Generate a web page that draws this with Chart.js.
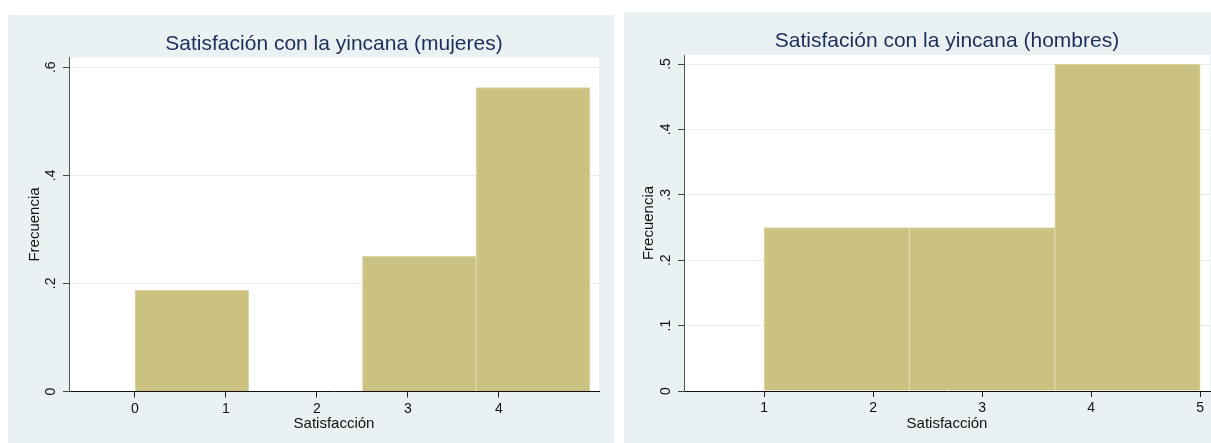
<!DOCTYPE html>
<html lang="es">
<head>
<meta charset="utf-8">
<title>Satisfación con la yincana</title>
<script src="https://cdn.jsdelivr.net/npm/chart.js@4/dist/chart.umd.min.js"></script>
<style>
  html, body { margin: 0; padding: 0; background: #ffffff; }
  body { width: 1211px; height: 443px; position: relative; overflow: hidden; }
  .panel { position: absolute; background: #e9f1f3; }
  #panelMujeres { left: 8px; top: 15px; width: 606px; height: 428px; }
  #panelHombres { left: 624px; top: 12px; width: 587px; height: 431px; }
  canvas { display: block; }
</style>
</head>
<body>
<div class="panel" id="panelMujeres"><canvas id="chartMujeres" width="606" height="428"></canvas></div>
<div class="panel" id="panelHombres"><canvas id="chartHombres" width="587" height="431"></canvas></div>
<script>
// Histogram bins (edges) and relative frequencies per bin
const binEdgesMujeres = [0, 1.25, 2.5, 3.75, 5];
const freqMujeres = [0.1875, 0, 0.25, 0.5625];

const binEdgesHombres = [1, 7 / 3, 11 / 3, 5];
const freqHombres = [0.25, 0.25, 0.5];

// Axis ticks and their labels
const xTicksMujeres = [0, 1, 2, 3, 4];
const xTickLabelsMujeres = ['0', '1', '2', '3', '4'];
const yTicksMujeres = [0, 0.2, 0.4, 0.6];
const yTickLabelsMujeres = ['0', '.2', '.4', '.6'];

const xTicksHombres = [1, 2, 3, 4, 5];
const xTickLabelsHombres = ['1', '2', '3', '4', '5'];
const yTicksHombres = [0, 0.1, 0.2, 0.3, 0.4, 0.5];
const yTickLabelsHombres = ['0', '.1', '.2', '.3', '.4', '.5'];

const titleMujeres = 'Satisfación con la yincana (mujeres)';
const titleHombres = 'Satisfación con la yincana (hombres)';
const xAxisTitle = 'Satisfacción';
const yAxisTitle = 'Frecuencia';

const FONT = 'Liberation Sans, Arial, Helvetica, sans-serif';
const BAR_FILL = '#cbc282';
const BAR_EDGE = '#dcd7a6';
const GRID = '#e4ecef';

// White plot region behind the bars
const plotBackground = {
  id: 'plotBackground',
  beforeDraw(chart) {
    const { ctx, chartArea: a } = chart;
    ctx.save();
    ctx.fillStyle = '#ffffff';
    ctx.fillRect(a.left, a.top, a.right - a.left, a.bottom - a.top);
    ctx.restore();
  }
};

function binPoints(edges, freqs) {
  return freqs.map((f, i) => ({ x: (edges[i] + edges[i + 1]) / 2, y: f }));
}

function makeHistogram(canvasId, cfg) {
  const ctx = document.getElementById(canvasId);
  return new Chart(ctx, {
    type: 'bar',
    data: {
      datasets: [{
        data: binPoints(cfg.edges, cfg.freqs),
        backgroundColor: BAR_FILL,
        borderColor: BAR_EDGE,
        borderWidth: 1,
        borderSkipped: 'start',
        barThickness: 'flex',
        barPercentage: 1,
        categoryPercentage: 1
      }]
    },
    options: {
      responsive: false,
      animation: false,
      devicePixelRatio: 1,
      events: [],
      layout: { padding: { left: 0, right: cfg.padRight, top: 0, bottom: 0 } },
      plugins: {
        legend: { display: false },
        tooltip: { enabled: false },
        title: {
          display: true,
          text: cfg.title,
          fullSize: false,
          color: '#1f2d5a',
          font: { family: FONT, size: 21, weight: 'normal', lineHeight: 1.2 },
          padding: { top: 16.4, bottom: cfg.titleGap }
        }
      },
      scales: {
        x: {
          type: 'linear',
          min: cfg.xMin,
          max: cfg.xMax,
          offset: false,
          afterBuildTicks: axis => { axis.ticks = cfg.xTicks.map(v => ({ value: v })); },
          afterFit: axis => { axis.height = cfg.xAxisHeight; },
          ticks: {
            autoSkip: false,
            maxRotation: 0,
            padding: 3,
            color: '#111111',
            font: { family: FONT, size: 14 },
            callback: (v, i) => cfg.xTickLabels[i]
          },
          grid: {
            display: true,
            offset: false,
            drawOnChartArea: false,
            drawTicks: true,
            tickLength: 6,
            tickColor: '#222222'
          },
          border: { display: true, color: '#111111', width: 1 },
          title: {
            display: true,
            text: xAxisTitle,
            color: '#111111',
            font: { family: FONT, size: 15, lineHeight: 1.2 },
            padding: { top: 0, bottom: 10 }
          }
        },
        y: {
          type: 'linear',
          min: 0,
          max: cfg.yMax,
          afterBuildTicks: axis => { axis.ticks = cfg.yTicks.map(v => ({ value: v })); },
          afterFit: axis => { axis.width = cfg.yAxisWidth; },
          ticks: {
            autoSkip: false,
            minRotation: 90,
            maxRotation: 90,
            crossAlign: 'center',
            padding: 6,
            color: '#111111',
            font: { family: FONT, size: 14 },
            callback: (v, i) => cfg.yTickLabels[i]
          },
          grid: {
            display: true,
            drawOnChartArea: true,
            color: GRID,
            lineWidth: 1,
            drawTicks: true,
            tickLength: 6,
            tickColor: '#444444'
          },
          border: { display: true, color: '#555555', width: 1 },
          title: {
            display: true,
            text: yAxisTitle,
            color: '#111111',
            font: { family: FONT, size: 15, lineHeight: 1.2 },
            padding: { top: cfg.yTitlePad, bottom: 0 }
          }
        }
      }
    },
    plugins: [plotBackground]
  });
}

makeHistogram('chartMujeres', {
  edges: binEdgesMujeres,
  freqs: freqMujeres,
  title: titleMujeres,
  xTicks: xTicksMujeres,
  xTickLabels: xTickLabelsMujeres,
  yTicks: yTicksMujeres,
  yTickLabels: yTickLabelsMujeres,
  xMin: -0.725,
  xMax: 5.1,
  yMax: 0.618,
  padRight: 15,
  titleGap: 0.9,
  xAxisHeight: 51.5,
  yAxisWidth: 61,
  yTitlePad: 18
});

makeHistogram('chartHombres', {
  edges: binEdgesHombres,
  freqs: freqHombres,
  title: titleHombres,
  xTicks: xTicksHombres,
  xTickLabels: xTickLabelsHombres,
  yTicks: yTicksHombres,
  yTickLabels: yTickLabelsHombres,
  xMin: 0.266,
  xMax: 5.09,
  yMax: 0.5138,
  padRight: 1,
  titleGap: 1.4,
  xAxisHeight: 52,
  yAxisWidth: 60,
  yTitlePad: 16
});
</script>
</body>
</html>
